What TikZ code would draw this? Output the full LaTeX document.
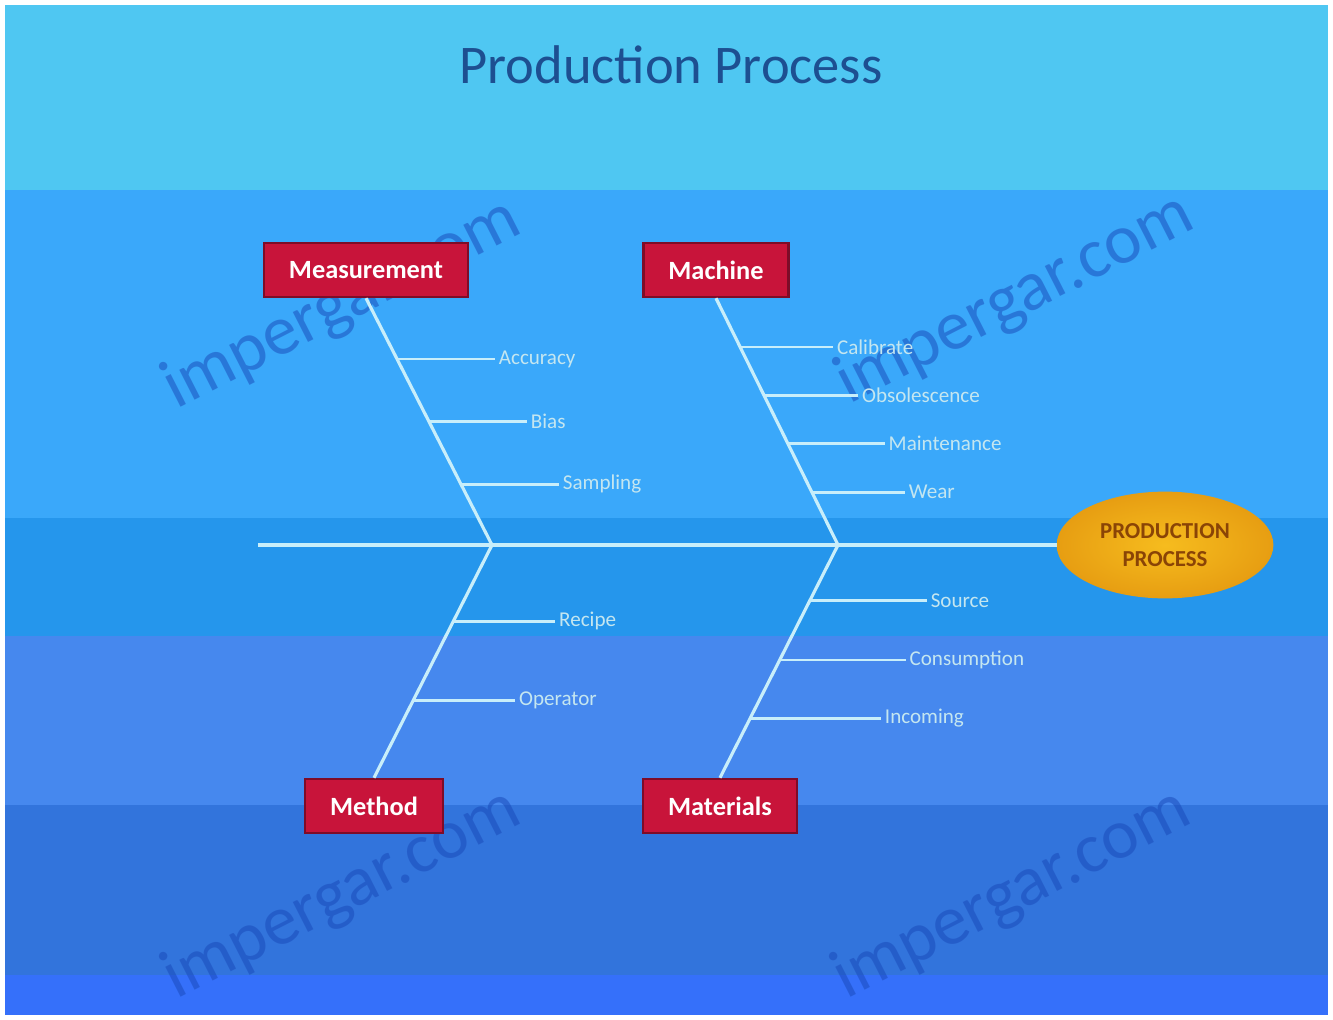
\documentclass[tikz,border=0pt]{standalone}
\usepackage{fontspec}
\setmainfont{Carlito}
\usetikzlibrary{shapes, arrows.meta, positioning, calc}
\definecolor{bandA}{HTML}{4FC7F2}
\definecolor{bandB}{HTML}{3AA8FA}
\definecolor{bandC}{HTML}{2596EC}
\definecolor{bandD}{HTML}{4688EE}
\definecolor{bandE}{HTML}{3274DC}
\definecolor{bandF}{HTML}{3570FA}
\definecolor{causefill}{HTML}{C8143A}
\definecolor{causeedge}{HTML}{7E0C28}
\definecolor{boneline}{HTML}{C8EEFA}
\definecolor{lbltext}{HTML}{C4E6F0}
\definecolor{titleblue}{HTML}{1D4F91}
\definecolor{headin}{HTML}{F6BC1E}
\definecolor{headout}{HTML}{E79E12}
\definecolor{headtext}{HTML}{8A4406}
\definecolor{wmblue}{HTML}{1848B8}
\tikzstyle{cause} = [draw=causeedge, line width=1.4pt, fill=causefill, rectangle, text=white, font=\fontsize{15}{17}\selectfont\bfseries, inner xsep=5mm, minimum height=10.8mm]
\tikzstyle{bone} = [draw=boneline, line width=1.8pt]
\tikzstyle{rib} = [draw=boneline, line width=1.5pt]
\tikzstyle{lbl} = [text=lbltext, font=\fontsize{12}{14}\selectfont, inner sep=2pt]
\tikzstyle{wmark} = [text=wmblue, opacity=.5, rotate=27, font=\fontsize{40}{44}\selectfont]

\begin{document}
\begin{tikzpicture}[x=0.2mm,y=-0.2mm]
    \useasboundingbox (0,0) rectangle (1333,1019);
    \fill[white] (0,0) rectangle (1333,1019);
    \fill[bandA] (5,5) rectangle (1328,190);
    \fill[bandB] (5,190) rectangle (1328,518);
    \fill[bandC] (5,518) rectangle (1328,636);
    \fill[bandD] (5,636) rectangle (1328,805);
    \fill[bandE] (5,805) rectangle (1328,975);
    \fill[bandF] (5,975) rectangle (1328,1015);
    \node[text=titleblue, font=\fontsize{31}{35}\selectfont] (title) at (671,65) {Production Process};
    \node[wmark] (w1) at (342,305) {impergar.com};
    \node[wmark] (w2) at (1015,300) {impergar.com};
    \node[wmark] (w3) at (342,895) {impergar.com};
    \node[wmark] (w4) at (1012,895) {impergar.com};
    \node[cause] (meas) at (366,270) {Measurement};
    \node[cause] (mach) at (716,270) {Machine};
    \node[cause] (meth) at (374,806) {Method};
    \node[cause] (mat) at (720,806) {Materials};
    \node[ellipse, minimum width=43mm, minimum height=21mm, inner color=headin, outer color=headout, draw=headout, line width=1pt, text=headtext, align=center, font=\fontsize{13}{16}\selectfont\bfseries] (head) at (1165,545) {PRODUCTION\\PROCESS};
    \coordinate (tail) at (258,545);
    \coordinate (j1) at (492,545);
    \coordinate (j2) at (838,545);
    \coordinate (a1) at ($(meas.south)!.246!(j1)$);
    \coordinate (a2) at ($(meas.south)!.5!(j1)$);
    \coordinate (a3) at ($(meas.south)!.754!(j1)$);
    \coordinate (b1) at ($(mach.south)!.198!(j2)$);
    \coordinate (b2) at ($(mach.south)!.395!(j2)$);
    \coordinate (b3) at ($(mach.south)!.589!(j2)$);
    \coordinate (b4) at ($(mach.south)!.786!(j2)$);
    \coordinate (c1) at ($(j1)!.328!(meth.north)$);
    \coordinate (c2) at ($(j1)!.668!(meth.north)$);
    \coordinate (d1) at ($(j2)!.238!(mat.north)$);
    \coordinate (d2) at ($(j2)!.494!(mat.north)$);
    \coordinate (d3) at ($(j2)!.745!(mat.north)$);
    \node[lbl, right=19.6mm of a1] (acc) {Accuracy};
    \node[lbl, right=19.6mm of a2] (bias) {Bias};
    \node[lbl, right=19.6mm of a3] (samp) {Sampling};
    \node[lbl, right=18.6mm of b1] (cal) {Calibrate};
    \node[lbl, right=18.8mm of b2] (obs) {Obsolescence};
    \node[lbl, right=19.4mm of b3] (mnt) {Maintenance};
    \node[lbl, right=18.6mm of b4] (wear) {Wear};
    \node[lbl, right=20.4mm of c1] (rec) {Recipe};
    \node[lbl, right=20.4mm of c2] (op) {Operator};
    \node[lbl, right=23.4mm of d1] (src) {Source};
    \node[lbl, right=25.2mm of d2] (cons) {Consumption};
    \node[lbl, right=26.2mm of d3] (inc) {Incoming};
    \draw[bone] (tail) -- (head.west);
    \draw[bone] (meas.south) -- (j1);
    \draw[bone] (mach.south) -- (j2);
    \draw[bone] (j1) -- (meth.north);
    \draw[bone] (j2) -- (mat.north);
    \draw[rib] (a1) -- (acc.west);
    \draw[rib] (a2) -- (bias.west);
    \draw[rib] (a3) -- (samp.west);
    \draw[rib] (b1) -- (cal.west);
    \draw[rib] (b2) -- (obs.west);
    \draw[rib] (b3) -- (mnt.west);
    \draw[rib] (b4) -- (wear.west);
    \draw[rib] (c1) -- (rec.west);
    \draw[rib] (c2) -- (op.west);
    \draw[rib] (d1) -- (src.west);
    \draw[rib] (d2) -- (cons.west);
    \draw[rib] (d3) -- (inc.west);
\end{tikzpicture}
\end{document}
